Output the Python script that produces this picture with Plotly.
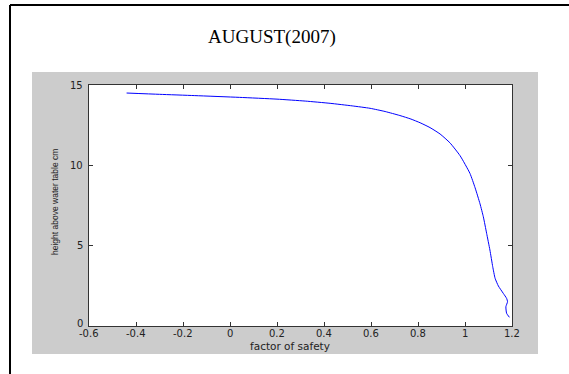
import plotly.graph_objects as go

# Data
factor_of_safety = [-0.44, -0.3, -0.15, 0.04, 0.2, 0.32, 0.426, 0.52, 0.596, 0.66, 0.723,
                    0.77, 0.809, 0.851, 0.894, 0.936, 0.979, 1.021, 1.043, 1.064, 1.078, 1.092,
                    1.106, 1.118, 1.128, 1.142, 1.163, 1.177, 1.181, 1.174, 1.177, 1.189]
height_cm = [14.5, 14.42, 14.34, 14.23, 14.12, 14.0, 13.86, 13.7, 13.55, 13.35, 13.1,
             12.88, 12.65, 12.35, 11.95, 11.4, 10.6, 9.5, 8.6, 7.6, 6.8, 5.77,
             4.73, 3.69, 2.97, 2.49, 2.03, 1.72, 1.51, 1.2, 0.79, 0.54]
x_ticks = [-0.6, -0.4, -0.2, 0, 0.2, 0.4, 0.6, 0.8, 1, 1.2]
x_tick_labels = ["-0.6", "-0.4", "-0.2", "0", "0.2", "0.4", "0.6", "0.8", "1", "1.2"]
y_ticks = [0, 5, 10, 15]
y_tick_labels = ["0", "5", "10", "15"]
title_text = "AUGUST(2007)"
x_title = "factor of safety"
y_title = "height above water table cm"

W, H = 569, 374
L, R, T, B = 89, 512, 85, 326  # plot area pixel bounds


def px(x):
    return (x - L) / (R - L)


def py(y):
    return (B - y) / (B - T)


fig = go.Figure()
fig.add_trace(go.Scatter(x=factor_of_safety, y=height_cm, mode="lines",
                         line=dict(color="#0000ff", width=1, shape="spline", smoothing=0.5),
                         showlegend=False, hoverinfo="skip"))

axis_common = dict(showline=True, linecolor="#333333", linewidth=1, mirror="ticks",
                   ticks="inside", ticklen=4, tickcolor="#333333", showgrid=False,
                   zeroline=False, showticklabels=False)

fig.update_xaxes(range=[-0.6, 1.2], tickvals=x_ticks, **axis_common)
fig.update_yaxes(range=[0, 15], tickvals=y_ticks, **axis_common)

shapes = [
    # grey figure background
    dict(type="rect", xref="paper", yref="paper", x0=px(32), x1=px(538), y0=py(354), y1=py(72),
         fillcolor="#cccccc", line=dict(width=0), layer="below"),
    # white axes area
    dict(type="rect", xref="paper", yref="paper", x0=0, x1=1, y0=0, y1=1,
         fillcolor="#ffffff", line=dict(width=0), layer="below"),
    # outer frame (left and top border)
    dict(type="line", xref="paper", yref="paper", x0=px(10), x1=px(10), y0=py(5), y1=py(380),
         line=dict(color="#000000", width=2)),
    dict(type="line", xref="paper", yref="paper", x0=px(10), x1=px(575), y0=py(5), y1=py(5),
         line=dict(color="#000000", width=2)),
]

tick_font = dict(family="DejaVu Sans", size=10, color="#222222")
annotations = [
    dict(text=title_text, xref="paper", yref="paper", x=px(272), y=py(37), showarrow=False,
         xanchor="center", yanchor="middle",
         font=dict(family="Liberation Serif", size=19, color="#000000")),
    dict(text=x_title, xref="paper", yref="paper", x=px(290), y=py(346), showarrow=False,
         xanchor="center", yanchor="middle",
         font=dict(family="DejaVu Sans", size=10.5, color="#222222")),
    dict(text=y_title, xref="paper", yref="paper", x=px(55), y=py(202), showarrow=False,
         xanchor="center", yanchor="middle", textangle=-90,
         font=dict(family="Liberation Sans", size=8.5, color="#222222")),
]
for v, t in zip(x_ticks, x_tick_labels):
    annotations.append(dict(text=t, xref="x", yref="paper", x=v, y=py(333), showarrow=False,
                            xanchor="center", yanchor="middle", font=tick_font))
for v, t in zip(y_ticks, y_tick_labels):
    annotations.append(dict(text=t, xref="paper", yref="y", x=px(85), y=v, showarrow=False,
                            xanchor="right", yanchor="middle", yshift=3 if v == 0 else 0,
                            font=tick_font))

fig.update_layout(width=W, height=H, margin=dict(l=L, r=W - R, t=T, b=H - B),
                  paper_bgcolor="#ffffff", plot_bgcolor="#ffffff",
                  shapes=shapes, annotations=annotations)

fig.write_html("out.html")
